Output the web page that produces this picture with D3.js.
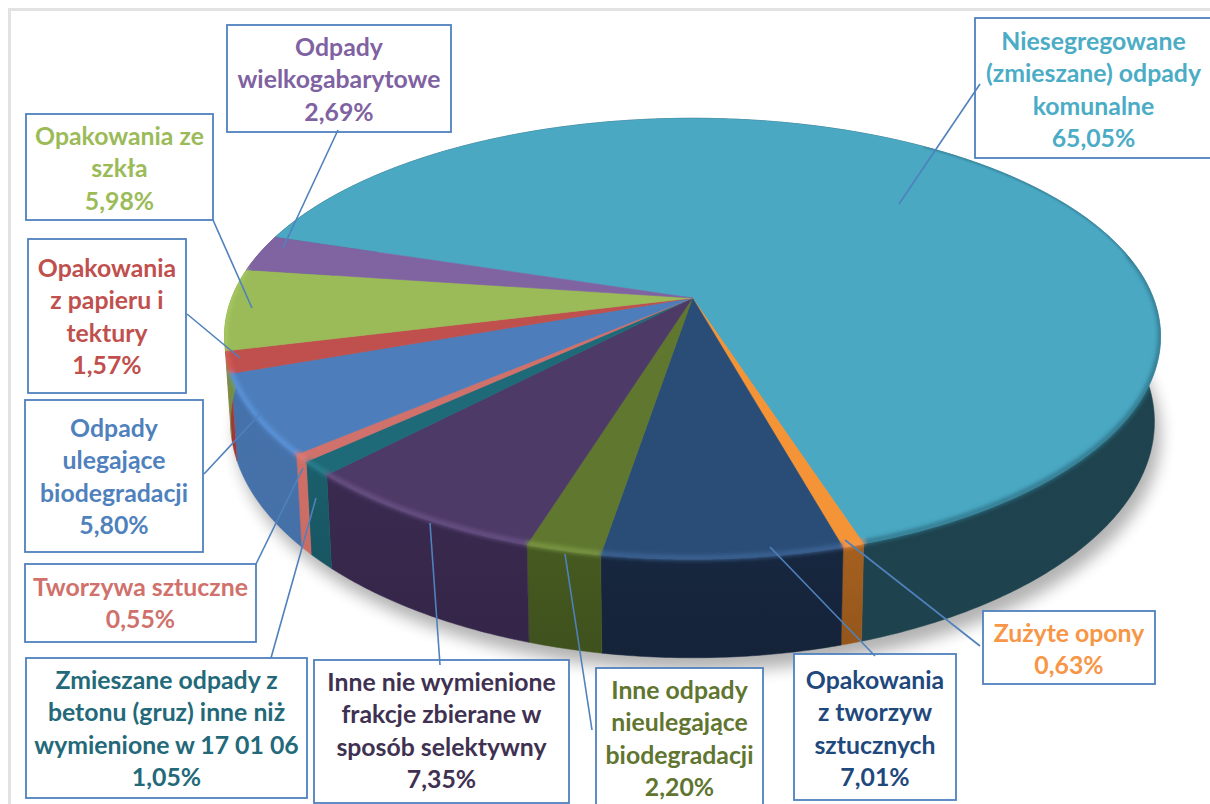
<!DOCTYPE html>
<html><head><meta charset="utf-8">
<script src="https://cdn.jsdelivr.net/npm/d3@7"></script>
<style>html,body{margin:0;padding:0;background:#fff;overflow:hidden}svg{display:block}text{font-family:Lato,"Open Sans",sans-serif;font-weight:700}</style>
</head><body><svg id="c" width="1210" height="804"></svg>
<script>
const categories=["Niesegregowane (zmieszane) odpady komunalne","Zużyte opony","Opakowania z tworzyw sztucznych","Inne odpady nieulegające biodegradacji","Inne nie wymienione frakcje zbierane w sposób selektywny","Zmieszane odpady z betonu (gruz) inne niż wymienione w 17 01 06","Tworzywa sztuczne","Odpady ulegające biodegradacji","Opakowania z papieru i tektury","Opakowania ze szkła","Odpady wielkogabarytowe"];
const values=[65.05,0.63,7.01,2.20,7.35,1.05,0.55,5.80,1.57,5.98,2.69];
const valueLabels=["65,05%","0,63%","7,01%","2,20%","7,35%","1,05%","0,55%","5,80%","1,57%","5,98%","2,69%"];
const labelLines=[["Niesegregowane","(zmieszane) odpady","komunalne"],["Zużyte opony"],["Opakowania","z tworzyw","sztucznych"],["Inne odpady","nieulegające","biodegradacji"],["Inne nie wymienione","frakcje zbierane w","sposób selektywny"],["Zmieszane odpady z","betonu (gruz) inne niż","wymienione w 17 01 06"],["Tworzywa sztuczne"],["Odpady","ulegające","biodegradacji"],["Opakowania","z papieru i","tektury"],["Opakowania ze","szkła"],["Odpady","wielkogabarytowe"]];
// styling, by slice
const topColors=["#4AA8C3","#F59437","#2A4D77","#5F772E","#4E3A66","#1F6A78","#D0716C","#4D7EBB","#C0504D","#9BBB59","#8064A2"];
const wallColors=["#1F444F","#A5601F","#17273F","#465A20","#3A2A50","#1B5F6C","#CF6E66","#4672AB","#A83E3C","#7F9A47","#5F4A7A"];
const rimColors=["#2F7388","#F79646","#3D6597","#7E9A47","#6A5288","#2A8090","#E07A72","#5B96DE","#DB5C59","#A9CC62","#8064A2"];
const textColors=["#4BACC6","#F79646","#1F497D","#5F7530","#403152","#23697A","#D0716C","#4F81BD","#C0504D","#9BBB59","#7F62A1"];
// callout layout: box [x0,y0,x1,y1], leader [x0,y0,x1,y1], first baseline
const boxes=[[975,18,1212,158],[983,611,1155,684],[794,654,956,800],[596,668,763,810],[314,660,569,803],[26,658,307,798],[25,564,256,642],[25,400,203,552],[28,239,186,393],[26,114,213,220],[227,25,451,132]];
const leaders=[[980,84,899,204],[980,646,845,540],[875,656,770,547],[592,730,565,554],[440,665,430,523],[271,658,316,498],[256,564,303,468],[204,474,260,414],[187,314,240,358],[213,220,252,308],[338,130,283,248]];
const firstBase=[50,642,689,699,691,689,596,437,277,145,56];
const lineStep=32.4, fontSize=24.8;

const cx=692.5,cy=298,R=460.8,Ry=213,kx=0.175,k=0.185,H=83,s=0.987;
const startDeg=287.5;
const project=(a,bottom)=>{const z=Math.cos(a),f=bottom?s:1;
  return [cx+Math.sin(a)*R*f/(1+kx*z), cy+((bottom?H:0)-z*Ry*f)/(1+k*z)];};
const samples=(a0,a1)=>{const n=Math.max(2,Math.ceil((a1-a0)/0.01));return d3.range(n+1).map(i=>a0+(a1-a0)*i/n);};
const line=d3.line();
const pie=d3.pie().sort(null).startAngle(startDeg*Math.PI/180).endAngle((startDeg+360)*Math.PI/180);
const arcs=pie(values);
const rad=d=>d*Math.PI/180;
const wallPath=d=>{const a=samples(d.startAngle,d.endAngle);return line(a.map(x=>project(x,false)).concat(a.slice().reverse().map(x=>project(x,true))))+"Z";};
const topPath=d=>line([[cx,cy]].concat(samples(d.startAngle,d.endAngle).map(x=>project(x,false))))+"Z";

const svg=d3.select("#c");
const defs=svg.append("defs");
const blur=(id,sd)=>defs.append("filter").attr("id",id).attr("filterUnits","userSpaceOnUse").attr("x",0).attr("y",0).attr("width",1210).attr("height",804).append("feGaussianBlur").attr("stdDeviation",sd);
blur("sh",8);blur("b2",1.9);blur("b1",0.8);
const clip=defs.append("clipPath").attr("id","pieClip");
arcs.forEach(d=>{clip.append("path").attr("d",wallPath(d));clip.append("path").attr("d",topPath(d));});
arcs.forEach((d,i)=>{const g=defs.append("linearGradient").attr("id","w"+i).attr("x1",0).attr("y1",0).attr("x2",0).attr("y2",1);
  g.append("stop").attr("offset",0).attr("stop-color",wallColors[i]);
  g.append("stop").attr("offset",1).attr("stop-color",d3.color(wallColors[i]).darker(i===0||i===6||i===7?0.05:0.3));});

// frame
svg.append("path").attr("d","M9.5,804V9.5H1210").attr("fill","none").attr("stroke","#e2e2e2").attr("stroke-width",3);

// shadow
svg.append("path").attr("d",line(samples(0,2*Math.PI).map(a=>{const p=project(a,true);return [p[0]+6,p[1]+13];}))+"Z").attr("fill","#000").attr("opacity",.3).attr("filter","url(#sh)");

// walls
svg.append("g").selectAll("path").data(arcs).join("path")
 .attr("d",wallPath)
 .attr("fill",(d,i)=>`url(#w${i})`).attr("stroke",(d,i)=>wallColors[i]).attr("stroke-width",.5);

// top faces
svg.append("g").selectAll("path").data(arcs).join("path")
 .attr("d",topPath)
 .attr("fill",(d,i)=>topColors[i]).attr("stroke",(d,i)=>topColors[i]).attr("stroke-width",.6);

// soft bevel on the rim: the large slice only shades from the right-hand side round to the front
const bevel=svg.append("g").attr("clip-path","url(#pieClip)");
const rimStart=(d,i,from)=>i===0?Math.max(d.startAngle,2*Math.PI+rad(from)):d.startAngle;
bevel.append("g").attr("filter","url(#b2)").selectAll("path").data(arcs).join("path")
 .attr("d",(d,i)=>line(samples(rimStart(d,i,78),d.endAngle).map(x=>{const p=project(x,false);return [p[0],p[1]-1.5];})))
 .attr("fill","none").attr("stroke",(d,i)=>rimColors[i]).attr("stroke-width",4.5);
bevel.append("path").attr("filter","url(#b1)")
 .attr("d",line(samples(2*Math.PI+rad(35),2*Math.PI+rad(80)).map(x=>project(x,false))))
 .attr("fill","none").attr("stroke",rimColors[0]).attr("stroke-width",1.6);

// callouts
const blue="#4F81BD";
const sel=svg.append("g").selectAll("g").data(categories).join("g");
sel.append("rect").attr("x",(d,i)=>boxes[i][0]).attr("y",(d,i)=>boxes[i][1]).attr("width",(d,i)=>boxes[i][2]-boxes[i][0]).attr("height",(d,i)=>boxes[i][3]-boxes[i][1]).attr("fill","#fff").attr("stroke",blue).attr("stroke-width",1.8);
sel.append("title").text(d=>d);
sel.each(function(d,i){const lines=labelLines[i].concat([valueLabels[i]]);const mid=(boxes[i][0]+boxes[i][2])/2;
  d3.select(this).selectAll("text").data(lines).join("text").attr("x",mid).attr("y",(t,j)=>firstBase[i]+j*lineStep).attr("text-anchor","middle").attr("font-size",fontSize).attr("fill",textColors[i]).text(t=>t);});
svg.append("g").selectAll("path").data(leaders).join("path").attr("d",d=>line([[d[0],d[1]],[d[2],d[3]]])).attr("stroke",blue).attr("stroke-width",1.6).attr("fill","none");
</script></body></html>
